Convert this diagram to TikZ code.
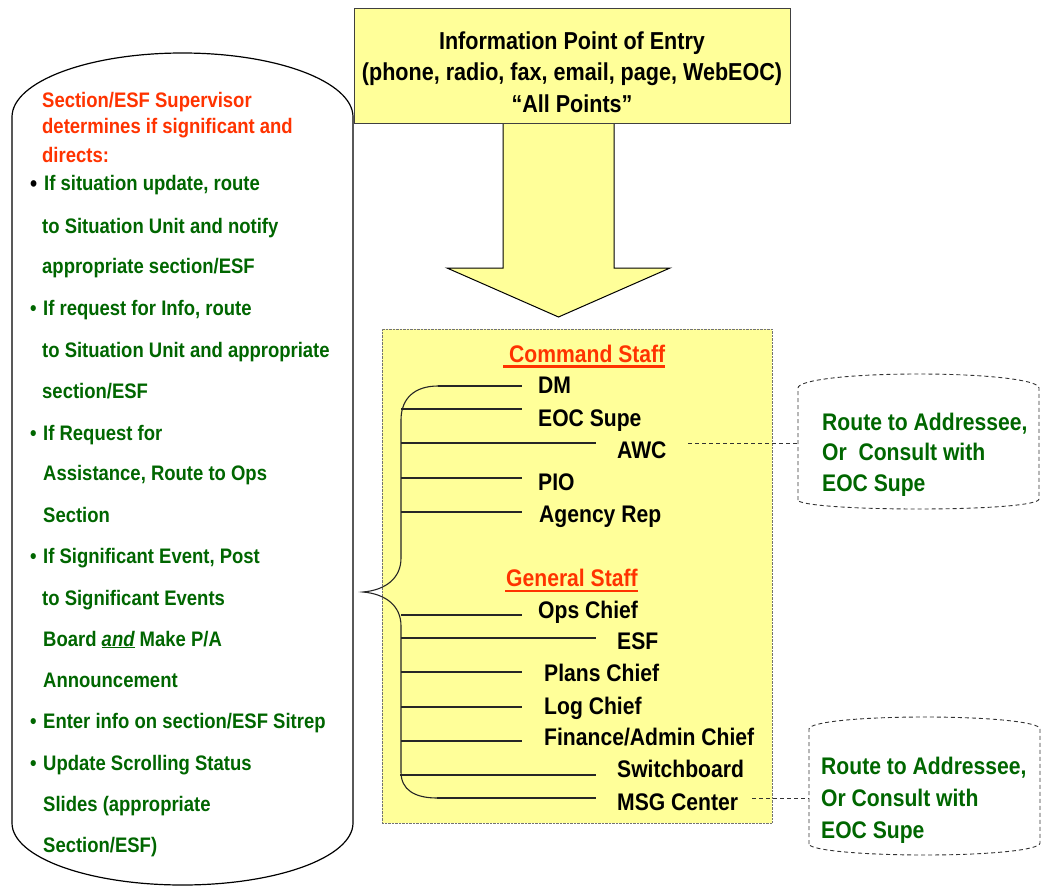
\documentclass[tikz,border=0pt]{standalone}
\usepackage{fontspec}
\setmainfont{Liberation Sans}[FakeStretch=0.88]
\definecolor{ylw}{RGB}{255,255,153}
\definecolor{redo}{RGB}{255,51,0}
\definecolor{grn}{RGB}{0,102,0}
\begin{document}
\begin{tikzpicture}[x=1pt,y=-1pt,
  item/.style={inner sep=0pt, anchor=base west, font=\fontsize{24}{28}\selectfont\bfseries},
  hdr/.style={item, text=redo},
  ttl/.style={inner sep=0pt, anchor=base, font=\fontsize{24.5}{28}\selectfont\bfseries},
  lft/.style={inner sep=0pt, anchor=base west, text=grn, font=\fontsize{21}{25}\selectfont\bfseries},
  lftred/.style={lft, text=redo},
  bul/.style={lft},
  route/.style={item, text=grn},
  conn/.style={line width=1.1pt, black!85},
  dconn/.style={line width=0.9pt, dash pattern=on 4pt off 3pt, black!80},
  rbox/.style={line width=0.9pt, dash pattern=on 4pt off 3pt, black!80},
]
\useasboundingbox (0,0) rectangle (1042,886);

% left scroll-like shape
\draw[line width=1.2pt, fill=white] (12,823) -- (12,117)
  arc[start angle=180, end angle=360, x radius=170.5, y radius=64]
  -- (353,823)
  arc[start angle=0, end angle=180, x radius=170.5, y radius=62] -- cycle;

% yellow staff box
\node[draw=black!55, densely dotted, fill=ylw, inner sep=0pt, minimum width=390pt, minimum height=494pt] (staff) at (577,576) {};

% big arrow
\draw[line width=1pt, fill=ylw] (503,122) -- (503,268) -- (447,268) -- (558.5,317) -- (670,268) -- (614,268) -- (614,122);

% entry box
\node[draw=black!75, line width=1pt, fill=ylw, inner sep=0pt, minimum width=436pt, minimum height=115pt] (entry) at (572,65.5) {};
\node[ttl] (e1) at (572,49) {Information Point of Entry};
\node[ttl] (e2) at (572,80) {(phone, radio, fax, email, page, WebEOC)};
\node[ttl] (e3) at (572,112) {“All Points”};

% left text
\node[lftred] (s1) at (42,107) {Section/ESF Supervisor};
\node[lftred] (s2) at (42,133) {determines if significant and};
\node[lftred] (s3) at (42,162) {directs:};
\node[bul, text=black, font=\fontsize{23}{25}\selectfont\bfseries] (b1) at (30,191) {•};
\node[lft] (t1) at (44,190) {If situation update, route};
\node[lft] (t2) at (42,233) {to Situation Unit and notify};
\node[lft] (t3) at (42,273) {appropriate section/ESF};
\node[bul] (b2) at (30,315) {•};
\node[lft] (t4) at (43,315) {If request for Info, route};
\node[lft] (t5) at (42,357) {to Situation Unit and appropriate};
\node[lft] (t6) at (42,398) {section/ESF};
\node[bul] (b3) at (30,440) {•};
\node[lft] (t7) at (43,440) {If Request for};
\node[lft] (t8) at (43,480) {Assistance, Route to Ops};
\node[lft] (t9) at (43,522) {Section};
\node[bul] (b4) at (30,563) {•};
\node[lft] (t10) at (43,563) {If Significant Event, Post};
\node[lft] (t11) at (42,605) {to Significant Events};
\node[lft] (t12) at (43,646) {Board \underline{\itshape and} Make P/A};
\node[lft] (t13) at (43,687) {Announcement};
\node[bul] (b5) at (30,728) {•};
\node[lft] (t14) at (43,728) {Enter info on section/ESF Sitrep};
\node[bul] (b6) at (30,770) {•};
\node[lft] (t15) at (43,770) {Update Scrolling Status};
\node[lft] (t16) at (43,811) {Slides (appropriate};
\node[lft] (t17) at (43,852) {Section/ESF)};

% headings
\node[hdr] (cmd) at (509,362) {Command Staff};
\draw[redo, line width=2.6pt] ([xshift=-6pt,yshift=-4.5pt]cmd.base west) -- ([yshift=-4.5pt]cmd.base east);
\node[hdr] (gen) at (506,586) {General Staff};
\draw[redo, line width=2.6pt] ([xshift=-1pt,yshift=-5pt]gen.base west) -- ([yshift=-5pt]gen.base east);

% staff items
\node[item] (dm)  at (538,393) {DM};
\node[item] (eoc) at (538,426) {EOC Supe};
\node[item] (awc) at (617,458) {AWC};
\node[item] (pio) at (538,490) {PIO};
\node[item] (agr) at (539,522) {Agency Rep};
\node[item] (ops) at (538,618) {Ops Chief};
\node[item] (esf) at (617,649) {ESF};
\node[item] (pln) at (544,681) {Plans Chief};
\node[item] (log) at (544,714) {Log Chief};
\node[item] (fin) at (544,745) {Finance/Admin Chief};
\node[item] (swb) at (617,777) {Switchboard};
\node[item] (msg) at (617,810) {MSG Center};

% brace
\coordinate (sDM) at (438,386);
\coordinate (sMSG) at (437,798);
\coordinate (tip) at (363,592);
\draw[conn] (sDM) .. controls (415,386) and (401,398) .. (401,420) -- (401,558)
  .. controls (401,578) and (386,590) .. (tip)
  .. controls (386,594) and (401,606) .. (401,626) -- (401,772)
  .. controls (401,790) and (415,798) .. (sMSG);

% branch lines
\coordinate (eDM) at (522,386);
\coordinate (sEOC) at (401,409); \coordinate (eEOC) at (522,409);
\coordinate (sAWC) at (401,443); \coordinate (eAWC) at (596,443);
\coordinate (sPIO) at (401,478); \coordinate (ePIO) at (522,478);
\coordinate (sAGR) at (401,512); \coordinate (eAGR) at (522,512);
\coordinate (sOPS) at (401,615); \coordinate (eOPS) at (522,615);
\coordinate (sESF) at (401,638); \coordinate (eESF) at (596,638);
\coordinate (sPLN) at (401,672); \coordinate (ePLN) at (522,672);
\coordinate (sLOG) at (401,707); \coordinate (eLOG) at (522,707);
\coordinate (sFIN) at (401,741); \coordinate (eFIN) at (522,741);
\coordinate (sSWB) at (400,775); \coordinate (eSWB) at (596,775);
\coordinate (eMSG) at (596,798);
\draw[conn] (sDM) -- (eDM);
\draw[conn] (sEOC) -- (eEOC);
\draw[conn] (sAWC) -- (eAWC);
\draw[conn] (sPIO) -- (ePIO);
\draw[conn] (sAGR) -- (eAGR);
\draw[conn] (sOPS) -- (eOPS);
\draw[conn] (sESF) -- (eESF);
\draw[conn] (sPLN) -- (ePLN);
\draw[conn] (sLOG) -- (eLOG);
\draw[conn] (sFIN) -- (eFIN);
\draw[conn] (sSWB) -- (eSWB);
\draw[conn] (sMSG) -- (eMSG);

% route boxes
\draw[rbox] (798,500) -- (798,388) .. controls (798,380) and (850,374) .. (918.5,374)
  .. controls (987,374) and (1039,380) .. (1039,388) -- (1039,499)
  .. controls (1039,505) and (987,509) .. (918.5,509)
  .. controls (850,509) and (798,505) .. (798,500) -- cycle;
\coordinate (r1) at (798,443);
\draw[rbox] (809,844) -- (809,729) .. controls (809,722) and (860,717) .. (924.5,717)
  .. controls (989,717) and (1040,722) .. (1040,729) -- (1040,843)
  .. controls (1040,850) and (989,855) .. (924.5,855)
  .. controls (860,855) and (809,850) .. (809,844) -- cycle;
\coordinate (r2) at (809,798);

\node[route] (ra1) at (822,430) {Route to Addressee,};
\node[route] (ra2) at (822,460) {Or\ \ Consult with};
\node[route] (ra3) at (822,491) {EOC Supe};
\node[route] (rb1) at (821,774) {Route to Addressee,};
\node[route] (rb2) at (821,806) {Or Consult with};
\node[route] (rb3) at (821,838) {EOC Supe};

% dashed connectors
\coordinate (dA) at (688,443);
\coordinate (dM) at (752,798);
\draw[dconn] (dA) -- (r1);
\draw[dconn] (dM) -- (r2);
\end{tikzpicture}
\end{document}
